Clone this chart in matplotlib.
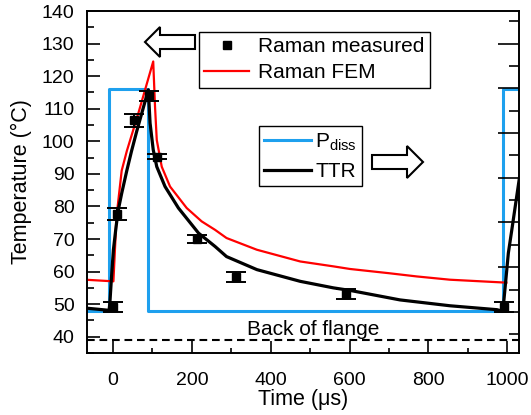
import matplotlib
matplotlib.use('Agg')
import matplotlib.pyplot as plt
from matplotlib.lines import Line2D
from matplotlib.patches import Polygon
from matplotlib.ticker import MultipleLocator

plt.rcParams['font.family'] = ['Liberation Sans', 'DejaVu Sans']
plt.rcParams['mathtext.fontset'] = 'custom'
plt.rcParams['mathtext.rm'] = 'Liberation Sans'

# --- data ---
raman_t = [1, 11, 52, 92, 111, 212, 312, 591, 991]
raman_T = [49.2, 77.6, 106.5, 113.8, 95.3, 70.0, 58.4, 53.1, 49.1]
raman_err = [1.6, 1.8, 2.0, 1.5, 0.7, 1.1, 1.6, 1.4, 1.5]

fem_t = [-70, 1, 9, 22, 35, 64, 102, 106.6, 111, 123.6, 144.7, 187, 225,
         259, 288, 365, 475, 559, 601, 700, 771, 855, 998]
fem_T = [57.5, 57.0, 77.0, 91.0, 97.0, 108.5, 124.5, 110.6, 100.4, 92.2, 86.1,
         79.5, 75.4, 72.8, 70.3, 66.7, 63.1, 61.6, 60.8, 59.5, 58.5, 57.5, 56.6]

ttr_t = [-70, -10, -8, -4, 1, 8, 13.5, 22, 35, 47, 60, 75, 89.6, 94, 102, 111,
         132, 166, 217, 259, 288, 365, 475, 559, 602, 728, 855, 974, 989, 995,
         1003, 1012, 1031]
ttr_T = [48.8, 48.1, 50.3, 58.0, 66.7, 74.0, 79.0, 84.0, 91.0, 97.0, 103.0,
         109.5, 115.8, 105.6, 97.4, 92.2, 86.1, 79.5, 71.8, 67.7, 64.6, 60.6,
         57.0, 55.0, 54.2, 51.3, 49.5, 48.3, 47.8, 55.4, 65.7, 73.0, 88.7]

pdiss_t = [-70, -9, -9, 90, 90, 990, 990, 1035]
pdiss_T = [48, 48, 116, 116, 48, 48, 116, 116]

flange_T = 39

W, H = 531, 415
fig = plt.figure(figsize=(W / 100, H / 100), dpi=100)
ax = fig.add_axes([87 / W, 1 - 353 / H, 432 / W, 342 / H])

blue = '#1ea0ee'
ax.plot(pdiss_t, pdiss_T, color=blue, lw=2.2, solid_joinstyle='round', zorder=2)
ax.plot(fem_t, fem_T, color='#ff0000', lw=1.6, zorder=3)
ax.plot(ttr_t, ttr_T, color='black', lw=2.3, zorder=4)
ax.errorbar(raman_t, raman_T, yerr=raman_err, fmt='s', color='black', ms=5.5,
            capsize=7.5, capthick=1.4, elinewidth=1.4, zorder=5)
ax.axhline(flange_T, color='black', lw=1.5, dashes=(3.7, 2.3), zorder=2)
ax.text(508, 40.6, 'Back of flange', ha='center', va='baseline', fontsize=15)

ax.set_xlim(-66, 1030)
ax.set_ylim(35, 140)
ax.xaxis.set_major_locator(MultipleLocator(200))
ax.xaxis.set_minor_locator(MultipleLocator(100))
ax.yaxis.set_major_locator(MultipleLocator(10))
ax.yaxis.set_minor_locator(MultipleLocator(5))
ax.set_yticks(range(40, 141, 10))
ax.tick_params(axis='both', which='both', direction='in', top=False, right=False,
               labelsize=14, width=1.2)
ax.tick_params(axis='x', which='major', length=8.6, pad=13.5)
ax.tick_params(axis='x', which='minor', length=3.6)
ax.tick_params(axis='y', which='major', length=9, pad=9)
ax.tick_params(axis='y', which='minor', length=4.8)
for s in ax.spines.values():
    s.set_linewidth(1.2)

ax.set_xlabel('Time (μs)', fontsize=15.5, labelpad=0)
ax.set_ylabel('Temperature (°C)', fontsize=15.5, labelpad=7)

# right-hand power axis: ticks only
ax2 = ax.twinx()
ax2.set_ylim(-0.92, 6.73)
ax2.yaxis.set_major_locator(MultipleLocator(1))
ax2.yaxis.set_minor_locator(MultipleLocator(0.5))
ax2.tick_params(axis='y', which='both', direction='in', labelright=False, width=1.2)
ax2.tick_params(axis='y', which='major', length=15)
ax2.tick_params(axis='y', which='minor', length=7.2)
for s in ax2.spines.values():
    s.set_linewidth(1.2)

# legends
h1 = [Line2D([], [], ls='none', marker='s', color='black', ms=5.5),
      Line2D([], [], color='#ff0000', lw=1.6)]
leg1 = ax2.legend(h1, ['Raman measured', 'Raman FEM'], loc='upper left',
                  bbox_to_anchor=((199 - 87) / 432, (353 - 32) / 342),
                  fontsize=15, frameon=True, fancybox=False, borderaxespad=0,
                  borderpad=0.25, handlelength=2.15, handletextpad=0.43,
                  labelspacing=0.35, framealpha=1)
leg1.get_frame().set_edgecolor('black')
leg1.get_frame().set_linewidth(1.0)
ax2.add_artist(leg1)

h2 = [Line2D([], [], color=blue, lw=2.2), Line2D([], [], color='black', lw=2.3)]
leg2 = ax2.legend(h2, [r'P$_{\mathrm{diss}}$', 'TTR'], loc='upper left',
                  bbox_to_anchor=((259 - 87) / 432, (353 - 126) / 342),
                  fontsize=15, frameon=True, fancybox=False, borderaxespad=0,
                  borderpad=0.25, handlelength=2.25, handletextpad=0.2,
                  labelspacing=0.45, framealpha=1)
leg2.get_frame().set_edgecolor('black')
leg2.get_frame().set_linewidth(1.0)


# hollow arrows (figure pixel positions, y from top)
def px(pts):
    return [(x / W, 1 - y / H) for x, y in pts]


left_arrow = [(145, 42), (160, 27), (160, 35), (195, 35), (195, 49), (160, 49), (160, 57)]
right_arrow = [(423, 162), (407, 146), (407, 155), (372, 155), (372, 169), (407, 169), (407, 178)]
for pts in (left_arrow, right_arrow):
    fig.patches.append(Polygon(px(pts), closed=True, facecolor='white',
                               edgecolor='black', lw=1.5, joinstyle='miter',
                               transform=fig.transFigure, zorder=10))

fig.savefig('out.png', dpi=100)
